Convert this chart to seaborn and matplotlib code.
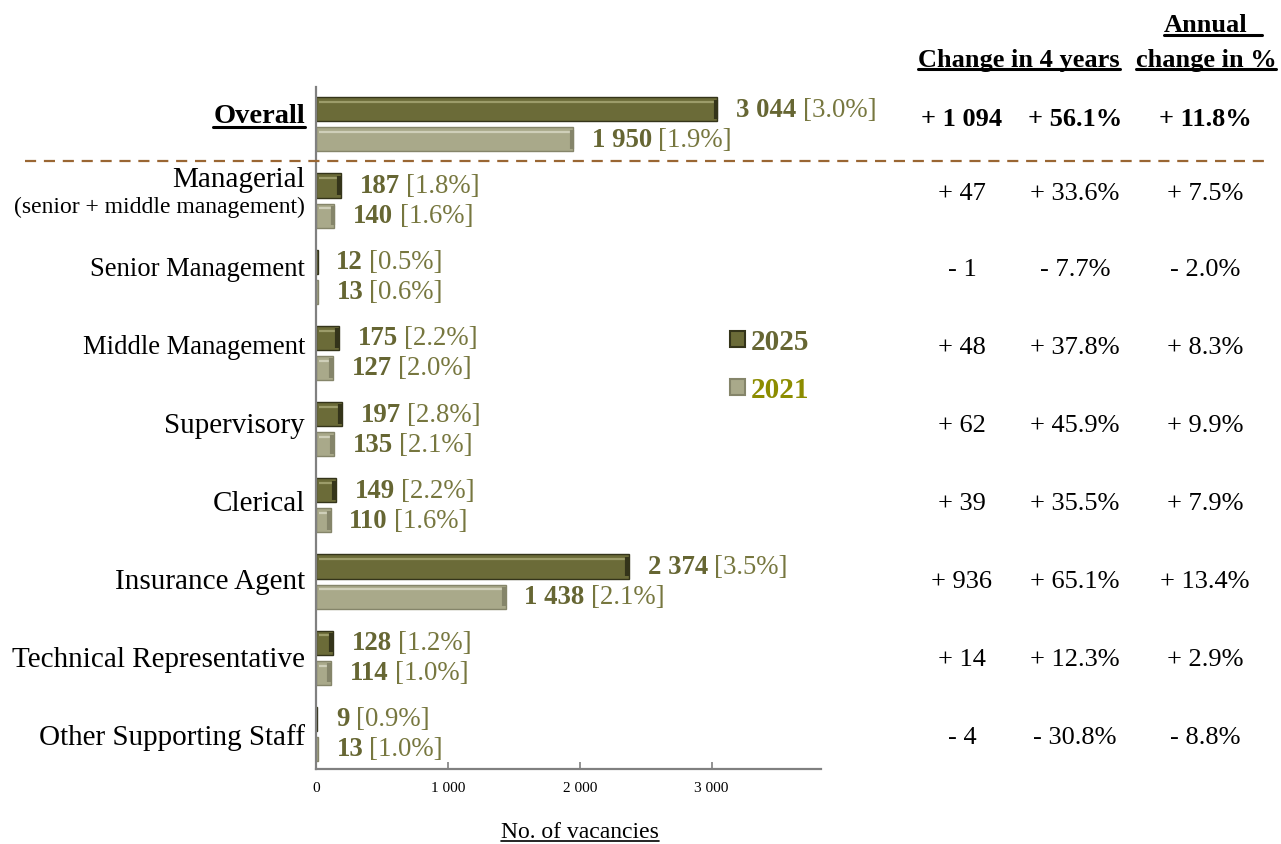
import matplotlib
matplotlib.use("Agg")
import matplotlib.pyplot as plt
import matplotlib.transforms as mtransforms
from matplotlib.lines import Line2D
import seaborn as sns
import pandas as pd

# ---------------- data ----------------
categories = ["Overall", "Managerial", "Senior Management", "Middle Management",
              "Supervisory", "Clerical", "Insurance Agent",
              "Technical Representative", "Other Supporting Staff"]
vac_2025 = [3044, 187, 12, 175, 197, 149, 2374, 128, 9]
pct_2025 = [3.0, 1.8, 0.5, 2.2, 2.8, 2.2, 3.5, 1.2, 0.9]
vac_2021 = [1950, 140, 13, 127, 135, 110, 1438, 114, 13]
pct_2021 = [1.9, 1.6, 0.6, 2.0, 2.1, 1.6, 2.1, 1.0, 1.0]
change_abs = ["+ 1 094", "+ 47", "- 1", "+ 48", "+ 62", "+ 39", "+ 936", "+ 14", "- 4"]
change_pct = ["+ 56.1%", "+ 33.6%", "- 7.7%", "+ 37.8%", "+ 45.9%", "+ 35.5%",
              "+ 65.1%", "+ 12.3%", "- 30.8%"]
annual_pct = ["+ 11.8%", "+ 7.5%", "- 2.0%", "+ 8.3%", "+ 9.9%", "+ 7.9%",
              "+ 13.4%", "+ 2.9%", "- 8.8%"]
years = ["2025", "2021"]
xticks = [0, 1000, 2000, 3000]
xtick_labels = ["0", "1 000", "2 000", "3 000"]

df = pd.DataFrame({
    "category": categories * 2,
    "value": vac_2025 + vac_2021,
    "year": ["2025"] * len(categories) + ["2021"] * len(categories),
})

# ---------------- style ----------------
sns.set_style("white")
plt.rcParams["font.family"] = ["Liberation Serif", "DejaVu Serif"]
plt.rcParams["text.color"] = "black"
plt.rcParams["xtick.color"] = "black"

C25 = "#6b6b38"
C25_EDGE = "#34341a"
C25_HI = "#9c9c6a"
C21 = "#a9a98a"
C21_EDGE = "#85856a"
C21_HI = "#cfcfb9"
LBL = "#666633"
LBL2 = "#77773f"

W, H = 1281, 845
fig = plt.figure(figsize=(W / 100, H / 100), dpi=100)
ax = fig.add_axes([316 / W, 1 - 770 / H, (821 - 316) / W, (770 - 88) / H])

sns.barplot(data=df, y="category", x="value", hue="year", hue_order=years,
            palette=[C25, C21], orient="h", width=0.79, gap=0.2,
            order=categories, ax=ax, legend=True, saturation=1)

ax.set_xlim(0, 3830)
ax.set_ylim(8.46, -0.49)
ax.set_ylabel("")
ax.set_xlabel("")
ax.set_yticks([])
ax.set_xticks(xticks)
ax.set_xticklabels(xtick_labels, fontsize=11)
ax.tick_params(axis="x", direction="in", length=5, width=1.2, color="#808080",
               labelcolor="black", pad=9, bottom=True)
for s in ["top", "right"]:
    ax.spines[s].set_visible(False)
for s in ["left", "bottom"]:
    ax.spines[s].set_color("#808080")
    ax.spines[s].set_linewidth(1.6)

# bevel look on bars
edge_cols = [(C25_EDGE, C25_HI), (C21_EDGE, C21_HI)]
for cont, (ec, hi) in zip(ax.containers, edge_cols):
    for p in cont.patches:
        p.set_edgecolor(ec)
        p.set_linewidth(1.0)
        x0, y0, w, h = p.get_x(), p.get_y(), p.get_width(), p.get_height()
        if w > 60:
            ax.plot([x0 + 25, x0 + w - 25], [y0 + h * 0.2, y0 + h * 0.2],
                    color=hi, lw=1.6, solid_capstyle="butt", zorder=3)
            ax.plot([x0 + w - 12, x0 + w - 12], [y0 + h * 0.1, y0 + h * 0.9],
                    color=ec, lw=3, solid_capstyle="butt", zorder=3)

# value labels
for cont, vals, pcts in zip(ax.containers, [vac_2025, vac_2021], [pct_2025, pct_2021]):
    for p, v, pc in zip(cont.patches, vals, pcts):
        yc = p.get_y() + p.get_height() / 2
        num = f"{v:,}".replace(",", " ")
        t = ax.annotate(num, xy=(p.get_x() + p.get_width(), yc), xytext=(13.5, 0),
                        textcoords="offset points", va="center", ha="left",
                        fontsize=19.3, fontweight="bold", color=LBL)
        ax.annotate(f"[{pc:.1f}%]", xy=(1, 0), xycoords=t, xytext=(4.5, 0),
                    textcoords="offset points", va="bottom", ha="left",
                    fontsize=19.3, color=LBL2)

# legend
handles, labels = ax.get_legend_handles_labels()
for hnd, (ec, _) in zip(handles, edge_cols):
    hnd.set_edgecolor(ec)
    hnd.set_linewidth(1.5)
leg = ax.legend(handles, labels, loc="upper left",
                bbox_to_anchor=(704 / W, 1 - 303 / H), bbox_transform=fig.transFigure,
                frameon=False, prop={"size": 21, "weight": "bold"},
                handlelength=0.5, handleheight=0.5, handletextpad=0.2,
                labelspacing=0.72, labelcolor=[LBL, "#8c8c00"])

# row texts
blend = mtransforms.blended_transform_factory(fig.transFigure, ax.transData)
def row_y(i):
    return i * 1.023 - 0.15 + (0.07 if i == 0 else 0.03 if i == 1 else 0.0)

underlined = []
for i, cat in enumerate(categories):
    yy = row_y(i)
    bold = (i == 0)
    fs = 19.2 if "Management" in cat else 21
    if cat == "Overall":
        t = ax.text(305 / W, yy - 0.03, cat, transform=blend, ha="right", va="center",
                    fontsize=20.5, fontweight="bold", clip_on=False)
        underlined.append((t, 0))
    elif cat == "Managerial":
        ax.text(305 / W, yy - 0.18, cat, transform=blend, ha="right", va="center",
                fontsize=fs, clip_on=False)
        ax.text(305 / W, yy + 0.18, "(senior + middle management)", transform=blend,
                ha="right", va="center", fontsize=17, clip_on=False)
    else:
        ax.text(305 / W, yy, cat, transform=blend, ha="right", va="center",
                fontsize=fs, clip_on=False)
    fw = "bold" if bold else "normal"
    for xc, txt in zip([962, 1075, 1205], [change_abs[i], change_pct[i], annual_pct[i]]):
        ax.text(xc / W, yy, txt, transform=blend, ha="center", va="center",
                fontsize=19, fontweight=fw, clip_on=False)

# headers
h1 = fig.text(1019 / W, 1 - 60 / H, "Change in 4 years", ha="center", va="center",
              fontsize=19, fontweight="bold")
h2 = fig.text(1206 / W, 1 - 26 / H, "Annual", ha="center", va="center",
              fontsize=19, fontweight="bold")
h3 = fig.text(1206 / W, 1 - 60 / H, "change in %", ha="center", va="center",
              fontsize=19, fontweight="bold")
xl = fig.text(580 / W, 1 - 833 / H, "No. of vacancies", ha="center", va="center",
              fontsize=17)
underlined += [(h1, 0), (h2, 14), (h3, 0), (xl, 0)]

# dashed separator
fig.add_artist(Line2D([25 / W, 1265 / W], [1 - 162 / H, 1 - 162 / H],
                      color="#9a6633", lw=1.6, linestyle=(0, (5, 3.5))))

# underlines
fig.canvas.draw()
r = fig.canvas.get_renderer()
for t, extra in underlined:
    bb = t.get_window_extent(r)
    yline = bb.y0 + 0.06 * bb.height
    lw = 2.2 if t.get_fontweight() == "bold" else 1.2
    fig.add_artist(Line2D([bb.x0 / W, (bb.x1 + extra) / W], [yline / H, yline / H],
                          color="black", lw=lw))

fig.savefig("out.png", dpi=100)
